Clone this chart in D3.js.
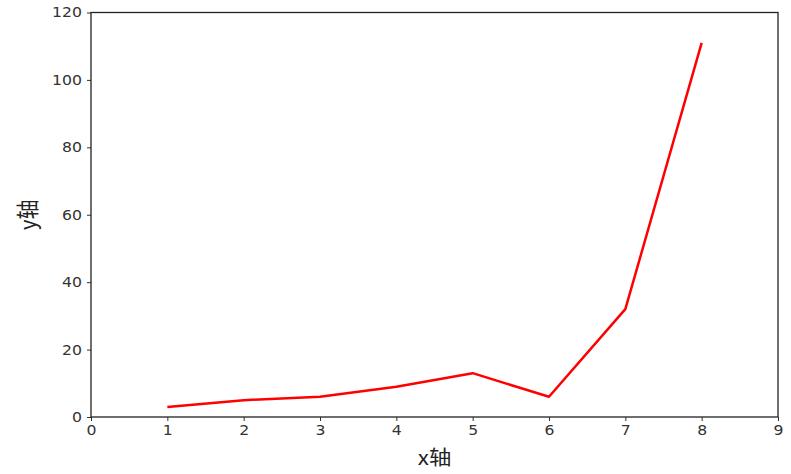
<!DOCTYPE html>
<html>
<head>
<meta charset="utf-8">
<script src="https://cdn.jsdelivr.net/npm/d3@7"></script>
<style>
  body { margin: 0; background: #fff; }
  svg { display: block; }
  .tick text { font-family: "DejaVu Sans", sans-serif; fill: #333; }
</style>
</head>
<body>
<svg id="chart" width="791" height="474"></svg>
<script>
// data
const xValues = [1, 2, 3, 4, 5, 6, 7, 8];
const yValues = [3, 5, 6, 9, 13, 6, 32, 111];
const xTicks = [0, 1, 2, 3, 4, 5, 6, 7, 8, 9];
const yTicks = [0, 20, 40, 60, 80, 100, 120];

const margin = { top: 12.5, right: 13, bottom: 57, left: 91 };
const width = 791, height = 474;

const svg = d3.select('#chart');

const x = d3.scaleLinear().domain([0, 9]).range([margin.left, width - margin.right]);
const y = d3.scaleLinear().domain([0, 120]).range([height - margin.bottom, margin.top]);

// axes
svg.append('g')
  .attr('transform', `translate(0,${height - margin.bottom})`)
  .call(d3.axisBottom(x).tickValues(xTicks).tickSize(4).tickPadding(4))
  .call(g => g.select('.domain').remove())
  .selectAll('text').attr('font-size', 14).attr('transform', 'scale(1.12,1)');

svg.append('g')
  .attr('transform', `translate(${margin.left},0)`)
  .call(d3.axisLeft(y).tickValues(yTicks).tickSize(4).tickPadding(5))
  .call(g => g.select('.domain').remove())
  .selectAll('text').attr('font-size', 14).attr('transform', 'scale(1.12,1)')
  .attr('x', -9 / 1.12);

svg.selectAll('.tick line').attr('stroke', '#333');

// frame
svg.append('rect')
  .attr('x', margin.left)
  .attr('y', margin.top)
  .attr('width', width - margin.right - margin.left)
  .attr('height', height - margin.bottom - margin.top)
  .attr('fill', 'none')
  .attr('stroke', '#222')
  .attr('stroke-width', 1.3);

// line
const line = d3.line()
  .x((d, i) => x(xValues[i]))
  .y(d => y(d));

svg.append('path')
  .datum(yValues)
  .attr('d', line)
  .attr('fill', 'none')
  .attr('stroke', '#ff0000')
  .attr('stroke-width', 2.5)
  .attr('stroke-linejoin', 'round');

// axis labels
svg.append('text')
  .attr('transform', `translate(${(margin.left + width - margin.right) / 2},465) scale(1.12,1)`)
  .attr('text-anchor', 'middle')
  .attr('font-family', '"Noto Sans CJK SC", sans-serif')
  .attr('font-size', 20)
  .attr('fill', '#222')
  .text('x轴');

svg.append('text')
  .attr('transform', `translate(36,${(margin.top + height - margin.bottom) / 2}) rotate(-90) scale(1,1.12)`)
  .attr('text-anchor', 'middle')
  .attr('font-family', '"Noto Sans CJK SC", sans-serif')
  .attr('font-size', 20)
  .attr('fill', '#222')
  .text('y轴');
</script>
</body>
</html>
